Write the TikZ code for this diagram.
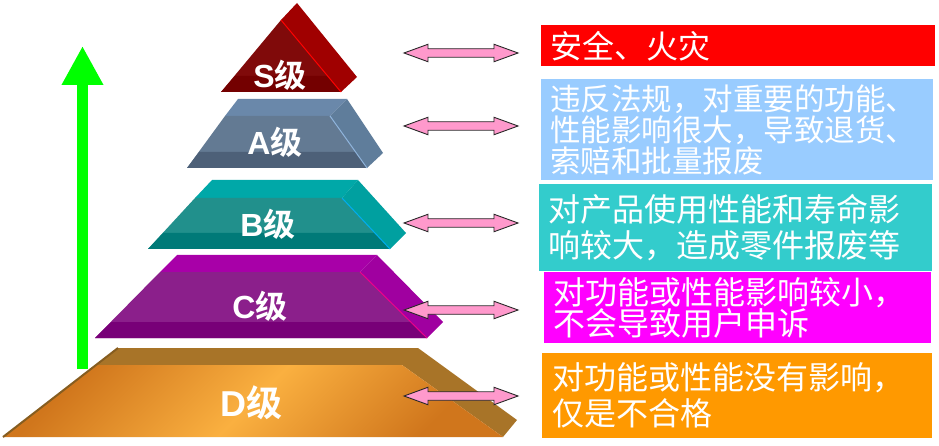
\documentclass[tikz,border=0pt]{standalone}
\usepackage{fontspec}
\setmainfont{Liberation Sans}
\newfontfamily\cjk[BoldFont={Noto Sans CJK SC Bold}]{Noto Sans CJK SC}
\usetikzlibrary{shapes.arrows,arrows.meta}

\definecolor{sside}{RGB}{160,0,0}
\definecolor{sface}{RGB}{128,10,10}
\definecolor{sband}{RGB}{116,0,0}
\definecolor{atop}{RGB}{106,136,170}
\definecolor{aface}{RGB}{99,122,147}
\definecolor{aband}{RGB}{77,96,120}
\definecolor{aside}{RGB}{95,125,155}
\definecolor{aedge}{RGB}{143,180,220}
\definecolor{btop}{RGB}{0,168,168}
\definecolor{bface}{RGB}{33,144,140}
\definecolor{bband}{RGB}{0,122,120}
\definecolor{bside}{RGB}{0,160,160}
\definecolor{ctop}{RGB}{168,0,168}
\definecolor{cface}{RGB}{139,31,139}
\definecolor{cband}{RGB}{120,0,120}
\definecolor{cside}{RGB}{160,0,160}
\definecolor{dtop}{RGB}{168,116,40}
\definecolor{dlight}{RGB}{250,176,64}
\definecolor{ddark}{RGB}{208,118,28}
\definecolor{arrowpink}{RGB}{255,153,204}
\definecolor{arrowline}{RGB}{40,40,40}
\definecolor{boxs}{RGB}{255,0,0}
\definecolor{boxa}{RGB}{153,204,255}
\definecolor{boxb}{RGB}{51,204,204}
\definecolor{boxc}{RGB}{255,0,255}
\definecolor{boxd}{RGB}{255,153,0}

\begin{document}
\begin{tikzpicture}[x=1pt,y=-1pt,
    level node/.style={text=white,font=\fontsize{32}{32}\selectfont\bfseries},
    desc node/.style={anchor=north west,text=white,inner xsep=9pt,inner ysep=0pt,align=left,font=\cjk\fontsize{32}{36}\selectfont},
    link node/.style={double arrow,draw=arrowline,fill=arrowpink,line width=0.9pt,inner xsep=0pt,inner ysep=3.8pt,
        minimum width=16pt,double arrow head extend=4.5pt,double arrow tip angle=40,minimum height=114pt}]
    \useasboundingbox (0,0) rectangle (939,446);

    % green arrow
    \coordinate (low) at (82.5,369);
    \coordinate (high) at (82.5,46);
    \draw[line width=11.5pt,green,-{Triangle[width=39pt,length=39pt]}] (low) -- (high);

    % S
    \fill[sside] (281,20) -- (297,3) -- (357,77) -- (341,92) -- cycle;
    \fill[sface] (221,92) -- (281,20) -- (341,92) -- cycle;
    \fill[sband] (221,92) -- (235,76) -- (328,76) -- (341,92) -- cycle;
    \draw[red,line width=1pt] (281,20) -- (341,92);
    % A
    \fill[atop] (238,99) -- (347,99) -- (330,116) -- (225,116) -- cycle;
    \fill[aside] (347,99) -- (383,153) -- (367,168) -- (330,116) -- cycle;
    \fill[aface] (225,116) -- (330,116) -- (367,168) -- (187,168) -- cycle;
    \fill[aband] (199,152) -- (356,152) -- (367,168) -- (187,168) -- cycle;
    \draw[aedge,line width=1pt] (330,116) -- (367,168);
    % B
    \fill[btop] (212,180) -- (358,180) -- (342,198) -- (195,198) -- cycle;
    \fill[bside] (358,180) -- (406,233) -- (390,249) -- (342,198) -- cycle;
    \fill[bface] (195,198) -- (342,198) -- (390,249) -- (148,249) -- cycle;
    \fill[bband] (163,233) -- (375,233) -- (390,249) -- (148,249) -- cycle;
    \draw[cyan,line width=1pt] (342,198) -- (390,249);
    % C
    \fill[ctop] (177,255) -- (377,255) -- (360,272) -- (160,272) -- cycle;
    \fill[cside] (377,255) -- (443,322) -- (427,338) -- (360,272) -- cycle;
    \fill[cface] (160,272) -- (360,272) -- (427,338) -- (95,338) -- cycle;
    \fill[cband] (111,322) -- (411,322) -- (427,338) -- (95,338) -- cycle;
    \draw[magenta,line width=1pt] (360,272) -- (427,338);
    % D
    \fill[dtop] (118,348) -- (418,348) -- (517,420) -- (503,437) -- (402,365) -- (96,365) -- cycle;
    \shade[top color=ddark,bottom color=ddark,middle color=dlight,shading angle=45]
        (96,365) -- (402,365) -- (503,437) -- (3,437) -- cycle;
    \draw[dtop!80!black,line width=2pt] (3,437) -- (118,348);

    \node[level node] (s) at (280,75) {S{\cjk\bfseries 级}};
    \node[level node] (a) at (275,142) {A{\cjk\bfseries 级}};
    \node[level node] (b) at (268,224) {B{\cjk\bfseries 级}};
    \node[level node] (c) at (260,306) {C{\cjk\bfseries 级}};
    \node[level node,font=\fontsize{36}{36}\selectfont\bfseries] (d) at (251,403) {D{\cjk\bfseries 级}};

    \node[desc node,fill=boxs,minimum width=394pt,minimum height=41pt,text width=376pt] (ds) at (541,25) {安全、火灾};
    \node[desc node,fill=boxa,minimum width=392pt,minimum height=101pt,text width=374pt,
        font=\cjk\fontsize{30.5}{31}\selectfont] (da) at (541,79)
        {违反法规，对重要的功能、\\性能影响很大，导致退货、\\索赔和批量报废};
    \node[desc node,fill=boxb,minimum width=393pt,minimum height=87pt,text width=375pt] (db) at (539,184)
        {对产品使用性能和寿命影\\响较大，造成零件报废等};
    \node[desc node,fill=boxc,minimum width=387pt,minimum height=71pt,text width=369pt,
        font=\cjk\fontsize{32}{29}\selectfont] (dc) at (544,272)
        {对功能或性能影响较小，\\不会导致用户申诉};
    \node[desc node,fill=boxd,minimum width=389pt,minimum height=85pt,text width=370pt,inner xsep=10pt] (dd) at (542,353)
        {对功能或性能没有影响，\\仅是不合格};

    \node[link node] (ls) at (461,53) {};
    \node[link node] (la) at (461,126) {};
    \node[link node] (lb) at (461,223) {};
    \node[link node] (lc) at (461,310) {};
    \node[link node] (ld) at (461,396) {};
\end{tikzpicture}
\end{document}
